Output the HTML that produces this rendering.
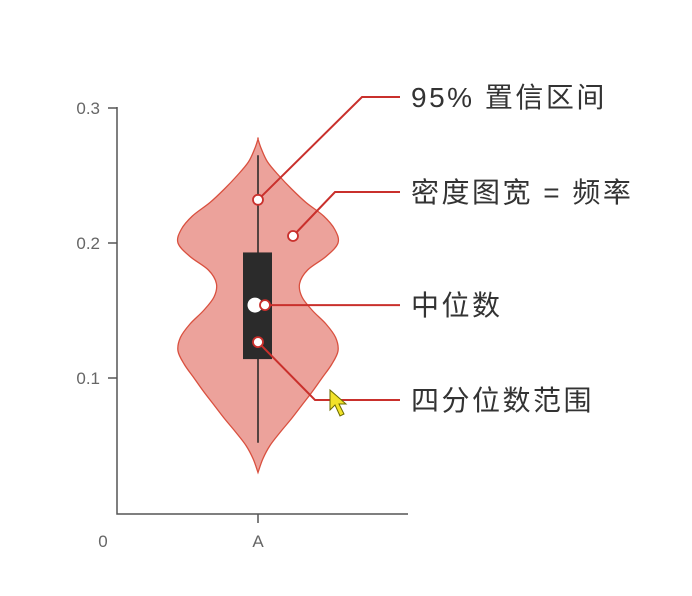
<!DOCTYPE html>
<html><head><meta charset="utf-8"><style>
html,body{margin:0;padding:0;background:#fff;width:692px;height:596px;overflow:hidden}
svg text{font-family:"Liberation Sans","Noto Sans CJK SC",sans-serif}
</style></head><body>
<svg id="chart" width="692" height="596" viewBox="0 0 692 596" xmlns="http://www.w3.org/2000/svg">
<g id="axes"></g>
<g id="violin"></g>
<g id="annot"></g>
<polygon points="330,390 330,410 335,405 340,416 344,414 339,404 346,404" fill="#f2e22a" stroke="#6b6b00" stroke-width="1"/>
</svg>
<script>
const yTicks = [0.1, 0.2, 0.3];
const yTickLabels = ["0.1", "0.2", "0.3"];
const categories = ["A"];
const densityY = [0.03,0.04,0.05,0.06,0.07,0.08,0.09,0.10,0.11,0.12,0.13,0.14,0.15,0.16,0.17,0.18,0.19,0.20,0.21,0.22,0.23,0.24,0.25,0.26,0.27,0.277];
const densityW = [0,0.06,0.15,0.28,0.42,0.55,0.68,0.8,0.92,1.0,0.97,0.85,0.68,0.55,0.52,0.62,0.85,1.0,0.96,0.82,0.6,0.42,0.26,0.12,0.04,0];
const whiskerLow = [0.052];
const whiskerHigh = [0.265];
const q1 = [0.114];
const q3 = [0.193];
const median = [0.154];
const ci95 = [0.232];
const labels = ["95% 置信区间", "密度图宽 = 频率", "中位数", "四分位数范围"];

const NS = "http://www.w3.org/2000/svg";
const y = v => 513 - v * 1350;
const x = i => 258 + i * 100;
const halfW = 80;
function mk(parent, tag, attrs){const e=document.createElementNS(NS,tag);for(const k in attrs)e.setAttribute(k,attrs[k]);parent.appendChild(e);return e;}
const axes = document.getElementById('axes');
const vg = document.getElementById('violin');
const an = document.getElementById('annot');

let e = mk(axes,'path',{d:'M117,107 V514 H408 M258,514 V523',stroke:'#555',fill:'none','stroke-width':1.5});


yTicks.forEach((t,i)=>{
  const tk = mk(axes,'line',{x1:108,x2:117,y1:y(t),y2:y(t),stroke:'#555','stroke-width':1.5});
  
  
  const tl = mk(axes,'text',{x:100,y:y(t)+6,'text-anchor':'end','font-size':17,fill:'#666'});
  tl.textContent = yTickLabels[i];
  
  
});
let z = mk(axes,'text',{x:103,y:547,'text-anchor':'middle','font-size':17,fill:'#666'});
z.textContent='0';


categories.forEach((c,i)=>{
  const t = mk(axes,'text',{x:x(i),y:547,'text-anchor':'middle','font-size':17,fill:'#666'});
  t.textContent=c;
  
  
});

const cx = x(0);
let pts = densityY.map((v,i)=>[cx+densityW[i]*halfW, y(v)]);
let left = densityY.map((v,i)=>[cx-densityW[i]*halfW, y(v)]).reverse();
const all = pts.concat(left);
function smooth(p){let d=`M${p[0][0]},${p[0][1]}`;for(let i=0;i<p.length-1;i++){const p0=p[Math.max(i-1,0)],p1=p[i],p2=p[i+1],p3=p[Math.min(i+2,p.length-1)];d+=` C${p1[0]+(p2[0]-p0[0])/6},${p1[1]+(p2[1]-p0[1])/6} ${p2[0]-(p3[0]-p1[0])/6},${p2[1]-(p3[1]-p1[1])/6} ${p2[0]},${p2[1]}`;}return d+'Z';}
e = mk(vg,'path',{d:smooth(all),fill:'#eca29b',stroke:'#d9503f','stroke-width':1.3});


e = mk(vg,'line',{x1:cx,x2:cx,y1:y(whiskerLow[0]),y2:y(whiskerHigh[0]),stroke:'#222','stroke-width':1.5});


e = mk(vg,'rect',{x:cx-15,y:y(q3[0]),width:29,height:y(q1[0])-y(q3[0]),fill:'#2b2b2b'});


e = mk(vg,'circle',{cx:cx-3,cy:y(median[0]),r:7.5,fill:'#fff'});



const red = '#c9302c';
const ann = [
  {pt:[cx, y(ci95[0])], path:[[362,97]], ty:97},
  {pt:[293,236], path:[[335,192]], ty:192},
  {pt:[cx+7, y(median[0])], path:[], ty:y(median[0])},
  {pt:[cx, y(q1[0])-17], path:[[315,400]], ty:400}
];
ann.forEach((a,i)=>{
  let d = `M${a.pt[0]},${a.pt[1]}`;
  a.path.forEach(p=>d+=` L${p[0]},${p[1]}`);
  d += ` L400,${a.ty}`;
  const l = mk(an,'path',{d:d,fill:'none',stroke:red,'stroke-width':2});
  
  
  const c = mk(an,'circle',{cx:a.pt[0],cy:a.pt[1],r:5,fill:'#fff',stroke:red,'stroke-width':1.8});
  
  
  const t = mk(an,'text',{x:411,y:a.ty+10,'font-size':28,fill:'#333','letter-spacing':2.5});
  t.textContent = labels[i];
  
  
});
</script>
</body></html>
